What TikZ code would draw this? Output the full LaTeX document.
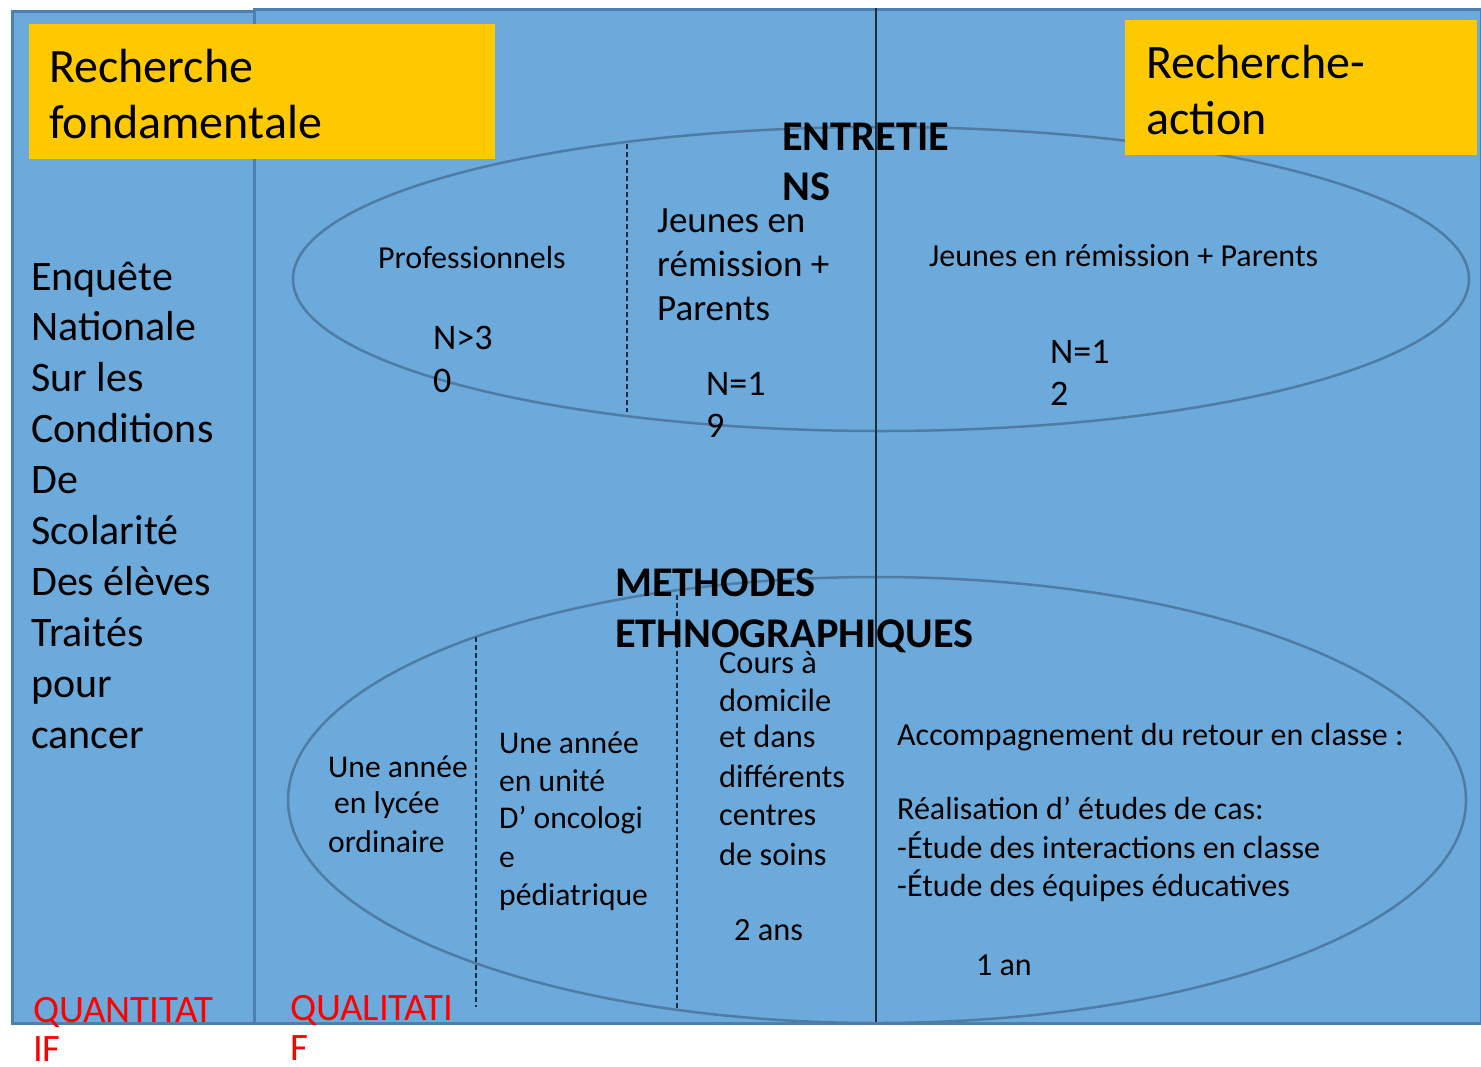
\documentclass[tikz,border=0pt]{standalone}
\usepackage{fontspec}
\setmainfont{Carlito}
\usetikzlibrary{shapes.geometric}
\definecolor{panelblue}{RGB}{107,170,219}
\definecolor{panelborder}{RGB}{76,128,176}
\definecolor{ovalline}{RGB}{78,124,165}
\definecolor{sepdark}{RGB}{30,45,65}
\definecolor{gold}{RGB}{255,201,0}
\definecolor{redtxt}{RGB}{255,0,0}
\begin{document}
\begin{tikzpicture}[x=1pt,y=-1pt,
  panel/.style={fill=panelblue, draw=panelborder, line width=2.5pt, anchor=north west, inner sep=0pt},
  titlebox/.style={fill=gold, draw=none, anchor=north west, inner sep=0pt},
  oval/.style={ellipse, draw=ovalline, line width=2.5pt, inner sep=0pt},
  sepline/.style={draw=sepdark, line width=1.4pt, dash pattern=on 5pt off 3pt},
  midline/.style={draw=sepdark, line width=1.8pt},
  txt/.style={anchor=base west, inner sep=0pt, text=black},
  ftitle/.style={font=\fontsize{48}{55}\selectfont},
  fleft/.style={font=\fontsize{42}{50}\selectfont},
  fnum/.style={font=\fontsize{36}{43}\selectfont},
  fmid/.style={font=\fontsize{37}{44}\selectfont},
  fly/.style={font=\fontsize{31.6}{37}\selectfont},
  fdom/.style={font=\fontsize{32.4}{38}\selectfont},
  facc/.style={font=\fontsize{32}{38}\selectfont},
  fsmall/.style={font=\fontsize{32}{38}\selectfont},
  fbold/.style={font=\bfseries\fontsize{42.3}{50}\selectfont},
  red/.style={txt, text=redtxt, font=\fontsize{38.8}{45}\selectfont}
]
\useasboundingbox (0,0) rectangle (1481,1066);
% panels
\node[panel, minimum width=242pt, minimum height=1012pt] (leftpanel) at (11,10) {};
\node[panel, minimum width=1227pt, minimum height=1014pt] (rightpanel) at (253,8) {};
% ellipses
\node[oval, minimum width=1176pt, minimum height=304pt] (entretiens) at (881,279) {};
\node[oval, minimum width=1178pt, minimum height=446pt] (methodes) at (877,800) {};
% title boxes
\node[titlebox, minimum width=466pt, minimum height=135pt] (fondbox) at (29,24) {};
\node[titlebox, minimum width=352pt, minimum height=135pt] (actbox) at (1125,20) {};
% separators
\coordinate (midtop) at (876,8);
\coordinate (midbot) at (876,1022);
\draw[midline] (midtop) -- (midbot);
\coordinate (d1a) at (627,144); \coordinate (d1b) at (627,412);
\coordinate (d2a) at (476,637); \coordinate (d2b) at (476,1007);
\coordinate (d3a) at (677,595); \coordinate (d3b) at (677,1010);
\draw[sepline] (d1a) -- (d1b);
\draw[sepline] (d2a) -- (d2b);
\draw[sepline] (d3a) -- (d3b);
% titles
\node[txt,ftitle] (rf1) at (49,82) {Recherche};
\node[txt,ftitle] (rf2) at (49,138) {fondamentale};
\node[txt,ftitle] (ra1) at (1146,78) {Recherche-};
\node[txt,ftitle] (ra2) at (1146,134) {action};
% left column
\foreach \t [count=\i] in {Enquête,Nationale,Sur les,Conditions,De,Scolarité,Des élèves,Traités,pour,cancer}
  \node[txt,fleft] (enq\i) at (31,{290+50.9*(\i-1)}) {\t};
% entretiens
\node[txt,fbold] (ent1) at (782,150) {ENTRETIE};
\node[txt,fbold] (ent2) at (782,200) {NS};
\node[txt,fsmall] (prof) at (378,268) {Professionnels};
\node[txt,fnum] (np1) at (433,349) {N>3};
\node[txt,fnum] (np2) at (433,392) {0};
\node[txt,fmid] (jr1) at (657,232) {Jeunes en};
\node[txt,fmid] (jr2) at (657,276) {rémission +};
\node[txt,fmid] (jr3) at (657,320) {Parents};
\node[txt,fnum] (nj1) at (706,395) {N=1};
\node[txt,fnum] (nj2) at (706,437) {9};
\node[txt,fsmall] (jrp) at (929,266) {Jeunes en rémission + Parents};
\node[txt,fnum] (nr1) at (1050,363) {N=1};
\node[txt,fnum] (nr2) at (1050,405) {2};
% methodes
\node[txt,fbold] (met1) at (615,596) {METHODES};
\node[txt,fbold] (met2) at (615,647) {ETHNOGRAPHIQUES};
\node[txt,fly] (ly1) at (328,777) {Une année};
\node[txt,fly] (ly2) at (334,813) {en lycée};
\node[txt,fly] (ly3) at (328,852) {ordinaire};
\foreach \t/\y [count=\i] in {Une année/753,en unité/791,D’ oncologi/828,e/867,pédiatrique/905}
  \node[txt,fly] (onc\i) at (499,\y) {\t};
\foreach \t/\y [count=\i] in {Cours à/673,domicile/711,et dans/747,différents/787,centres/825,de soins/865}
  \node[txt,fdom] (dom\i) at (719,\y) {\t};
\node[txt,fdom] (deuxans) at (734,940) {2 ans};
\node[txt,facc] (acc1) at (897,745) {Accompagnement du retour en classe :};
\node[txt,facc] (acc2) at (897,819) {Réalisation d’ études de cas:};
\node[txt,facc] (acc3) at (897,858) {-Étude des interactions en classe};
\node[txt,facc] (acc4) at (897,896) {-Étude des équipes éducatives};
\node[txt,facc] (unan) at (976,975) {1 an};
% bottom labels
\node[red] (qt1) at (33,1022) {QUANTITAT};
\node[red] (qt2) at (33,1061) {IF};
\node[red] (ql1) at (290,1020) {QUALITATI};
\node[red] (ql2) at (290,1060) {F};
\end{tikzpicture}
\end{document}
